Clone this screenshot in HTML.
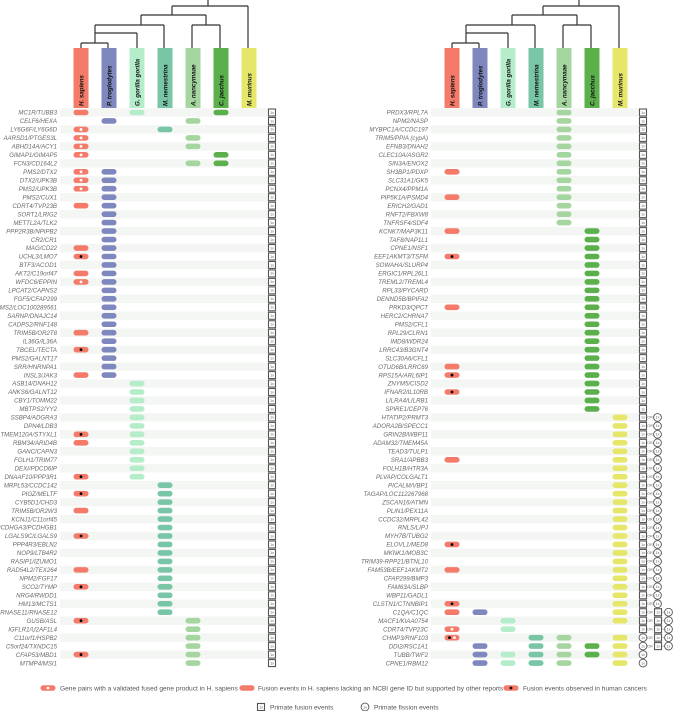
<!DOCTYPE html>
<html><head><meta charset="utf-8">
<style>
html,body{margin:0;padding:0;background:#fff;}
svg{display:block;font-family:"Liberation Sans",sans-serif;}
</style></head>
<body>
<svg id="chart" width="677" height="711" viewBox="0 0 677 711"></svg>
<script>
const species = ["H. sapiens","P. troglodytes","G. gorilla gorilla","M. nemestrina","A. nancymaae","C. jacchus","M. murinus"];
const speciesColors = ["#f47b69","#7f87bf","#b5ecca","#78c6a6","#a5d6a0","#5bb04c","#e6e76a"];
const leftGenes = ["MC1R/TUBB3","CELF6/HEXA","LY6G6F/LY6G6D","AARSD1/PTGES3L","ABHD14A/ACY1","GIMAP1/GIMAP5","FCN3/CD164L2","PMS2/DTX2","DTX2/UPK3B","PMS2/UPK3B","PMS2/CUX1","CDRT4/TVP23B","SORT1/LRIG2","METTL2A/TLK2","PPP2R3B/NPIPB2","CR2/CR1","MAG/CD22","UCHL3/LMO7","BTF3/ACOD1","AKT2/C19orf47","WFDC6/EPPIN","LPCAT2/CAPNS2","FGF5/CFAP299","PMS2/LOC100289561","SARNP/DNAJC14","CADPS2/RNF148","TRIM5B/OR2T8","IL36G/IL36A","TBCEL/TECTA","PMS2/GALNT17","SRR/HNRNPA1","INSL3/JAK3","ASB14/DNAH12","ANKS6/GALNT12","CBY1/TOMM22","MBTPS2/YY2","SSBP4/ADGRA3","DPN4/LDB3","TMEM120A/STYXL1","RBM34/ARID4B","GANC/CAPN3","FOLH1/TRIM77","DEXI/PDCD6IP","DNAAF10/PPP3R1","MRPL53/CCDC142","PIGZ/MELTF","CYB5D1/CHD3","TRIM5B/OR2W3","KCNJ1/C11orf45","PCDHGA3/PCDHGB1","LGALS9C/LGALS9","PPP4R3/EBLN2","NOP9/LTB4R2","RASIP1/IZUMO1","RAD54L2/TEX264","NPM2/FGF17","SCO2/TYMP","NRG4/RWDD1","HM13/MCTS1","RNASE11/RNASE12","GUSB/ASL","IGFLR1/U2AF1L4","C11orf1/HSPB2","C5orf24/TXNDC15","CFAP53/MBD1","MTMP4/MSI1"];
const leftSpecies = [[0,2,5],[1,4],[0,3],[0,4],[0,4],[0,5],[4,5],[0,1],[0,1],[0,1],[1],[0,1],[1],[1],[1],[1],[0,1],[0,1],[1],[0,1],[0,1],[1],[1],[1],[1],[1],[0,1],[1],[0,1],[1],[1],[0,1],[2],[2],[2],[2],[2],[2],[0,2],[0,2],[2],[2],[2],[0,2],[3],[0,3],[3],[0,3],[3],[3],[0,3],[3],[3],[3],[0,3],[3],[0,3],[3],[3],[3],[0,4],[4],[4],[4],[0,4],[4]];
const leftHuman = ["n","","v","v","v","v","","v","v","v","","n","","","","","n","c","","n","v","","","","","","n","","c","","","n","","","","","","","c","n","","","","c","","c","","n","","","c","","","","n","","c","","","","c","","","","c",""];
const rightGenes = ["PRDX3/RPL7A","NPM2/NASP","MYBPC1A/CCDC197","TRIM5/PPIA (cypA)","EFNB3/DNAH2","CLEC10A/ASGR2","SIN3A/ENOX2","SH3BP1/PDXP","SLC31A1/GK5","PCNX4/PPM1A","PIP5K1A/PSMD4","ERICH2/GAD1","RNFT2/FBXW8","TNFRSF4/SDF4","KCNK7/MAP3K11","TAF8/NAP1L1","CPNE1/NSF1","EEF1AKMT3/TSFM","SOWAHA/SLURP4","ERGIC1/RPL26L1","TREML2/TREML4","RPL33/PYCARD","DENND5B/BPIFA2","PRKD3/QPCT","HERC2/CHRNA7","PMS2/CFL1","RPL29/CLRN1","IMD8/WDR24","LRRC43/B3GNT4","SLC30A6/CFL1","OTUD6B/LRRC69","RPS15A/ARL6IP1","ZNYM5/CISD2","IFNAR2/IL10RB","LILRA4/LILRB1","SPIRE1/CEP76","HTATIP2/PRMT3","ADORA2B/SPECC1","GRIN2B/WBP11","ADAM32/TMEM45A","TEAD3/TULP1","SRA1/APBB3","FOLH1B/HTR3A","PLVAP/COLGALT1","PICALM/VBP1","TAGAP/LOC112267968","ZSCAN16/ATMN","PLIN1/PEX11A","CCDC32/MRPL42","RNLS/LIPJ","MYH7B/TUBG2","ELOVL1/MED8","MKNK1/MOB3C","TRIM39-RPP21/BTNL10","FAM53B/EEF1AKMT2","CFAP299/BMP3","FAM63A/SLBP","WBP11/GADL1","CLSTN1/CTNNBIP1","C1QA/C1QC","MACF1/KIAA0754","CDRT4/TVP23C","CHMP3/RNF103","DDI2/RSC1A1","TUBB/TWF2","CPNE1/RBM12"];
const rightSpecies = [[4],[4],[4],[4],[4],[4],[4],[0,4],[4],[4],[0,4],[4],[4],[4],[0,5],[5],[5],[0,5],[5],[5],[5],[5],[5],[0,5],[5],[5],[5],[5],[5],[5],[0,5],[0,5],[5],[0,5],[5],[5],[6],[6],[6],[6],[6],[0,6],[6],[6],[6],[6],[6],[6],[6],[6],[6],[0,6],[6],[6],[0,6],[6],[6],[6],[0,6],[0,1,6],[2,6],[0,2],[0,3,4,6],[1,3,4,5,6],[1,2,3,4,5,6],[1,2,3,4,6]];
const rightHuman = ["","","","","","","","n","","","n","","","","n","","","c","","","","","","n","","","","","","","n","c","","c","","","","","","","","n","","","","","","","","","","c","","","n","","","","c","n","","v","b","","",""];
const rightEvents = ["f","f","f","f","f","f","f","f","f","f","f","f","f","f","f","f","f","f","f","f","f","f","f","f","f","f","f","f","f","f","f","f","f","f","f","f","fo","fo","fo","fo","fo","fo","fo","fo","fo","fo","fo","fo","fo","fo","fo","fo","fo","fo","fo","fo","fo","fo","fo","ffx","ffx","ffx","xfx","xfx","x","x"];

const NS="http://www.w3.org/2000/svg";
const svg=document.getElementById('chart');
function el(tag,attrs,parent){const e=document.createElementNS(NS,tag);for(const k in attrs)e.setAttribute(k,attrs[k]);(parent||svg).appendChild(e);return e;}
const rowY0=112.5, rowH=8.47, colStep=28;
function rowY(i){return rowY0+i*rowH;}

function fusionBox(g,cx,cy){
  const b=el('rect',{x:cx-3.5,y:cy-3.5,width:7,height:7,fill:'#fff',stroke:'#555','stroke-width':1.1},g);
  
  
  el('text',{x:cx,y:cy+1.3,'font-size':3.5,'text-anchor':'middle',fill:'#555'},g).textContent='1x';
}
function fissionCircle(g,cx,cy){
  const c=el('circle',{cx:cx,cy:cy,r:3.9,fill:'#fff',stroke:'#555','stroke-width':0.9},g);
  
  
  el('text',{x:cx,y:cy+1.3,'font-size':3.5,'text-anchor':'middle',fill:'#555'},g).textContent='1x';
}
function pill(g,cx,cy,color,human){
  const p=el('rect',{x:cx-7.5,y:cy-2.8,width:15,height:5.6,rx:2.8,fill:color},g);
  
  
  if(human==='v') el('circle',{cx:cx,cy:cy,r:1.4,fill:'#fff'},g);
  if(human==='c') el('circle',{cx:cx,cy:cy,r:1.4,fill:'#000'},g);
  if(human==='b'){el('circle',{cx:cx-2.5,cy:cy,r:1.4,fill:'#000'},g);el('circle',{cx:cx+2.5,cy:cy,r:1.4,fill:'#fff'},g);}
}

function panel(ox,genes,spp,human,events,name){
  const g=el('g',{});
  
  
  const col0=81+ox;
  const T=el('g',{stroke:'#333','stroke-width':1.2,fill:'none'},g);
  
  
  const cx=i=>col0+i*colStep;
  const lines=[[208,0,208,6],[172,6,248,6],[248,6,248,48],[172,6,172,15],[141,15,206,15],[206,15,206,25],[141,15,141,25],[95,25,164,25],[164,25,164,48],[95,25,95,33],[95,33,137,33],[137,33,137,48],[95,33,95,43],[81,43,108,43],[81,43,81,48],[108,43,108,48],[192,25,220,25],[192,25,192,48],[220,25,220,48]];
  lines.forEach(l=>el('line',{x1:l[0]+ox,y1:l[1],x2:l[2]+ox,y2:l[3]},T));
  species.forEach((s,i)=>{
    const h=el('rect',{x:cx(i)-7.5,y:48,width:15,height:60,fill:speciesColors[i]},g);
    
    
    const t=el('text',{x:0,y:0,transform:`translate(${cx(i)+2.3},106) rotate(-90)`,'font-size':6.2,'font-weight':'bold','font-style':'italic',fill:'#111'},g);
    t.textContent=s;
  });
  genes.forEach((gn,r)=>{
    const y=rowY(r);
    if(r%2===0) el('rect',{x:ox+60,y:y-rowH/2,width:209,height:rowH,fill:'#f4f6f4'},g);
    const lab=el('text',{x:ox+57,y:y+2.2,'font-size':6.1,'font-style':'italic','text-anchor':'end',fill:'#6a6a6a'},g);
    
    
    lab.textContent=gn;
    spp[r].forEach(si=>pill(g,cx(si),y,speciesColors[si],si===0?human[r]:''));
    const mx=ox+191+81;
    const ev=events?events[r]:'f';
    const sm=(x,txt)=>{el('text',{x:x,y:y+1.3,'font-size':3.6,'text-anchor':'middle',fill:'#666'},g).textContent=txt;};
    if(ev==='f') fusionBox(g,mx,y);
    else if(ev==='x') fissionCircle(g,mx,y);
    else if(ev==='fo'){fusionBox(g,mx,y);sm(mx+7,'OR');fissionCircle(g,mx+14.5,y);}
    else { if(ev==='ffx') fusionBox(g,mx,y); else fissionCircle(g,mx,y);
      sm(mx+7,'OR');fusionBox(g,mx+15,y);sm(mx+20,'+');fissionCircle(g,mx+25.5,y);}
  });
}
panel(0,leftGenes,leftSpecies,leftHuman,null,'left-panel');
panel(371,rightGenes,rightSpecies,rightHuman,rightEvents,'right-panel');

const L=el('g',{'font-size':6.6,fill:'#555'});


const ly=688;
pill(L,48,ly,speciesColors[0],'v');
el('text',{x:60,y:ly+2.3},L).textContent='Gene pairs with a validated fused gene product in H. sapiens';
pill(L,247,ly,speciesColors[0],'');
el('text',{x:258,y:ly+2.3},L).textContent='Fusion events in H. sapiens lacking an NCBI gene ID but supported by other reports';
pill(L,511,ly,speciesColors[0],'c');
el('text',{x:523,y:ly+2.3},L).textContent='Fusion events observed in human cancers';
fusionBox(L,261,707);
el('text',{x:270,y:709.3},L).textContent='Primate fusion events';
fissionCircle(L,365,707);
el('text',{x:374,y:709.3},L).textContent='Primate fission events';
</script>
</body></html>
